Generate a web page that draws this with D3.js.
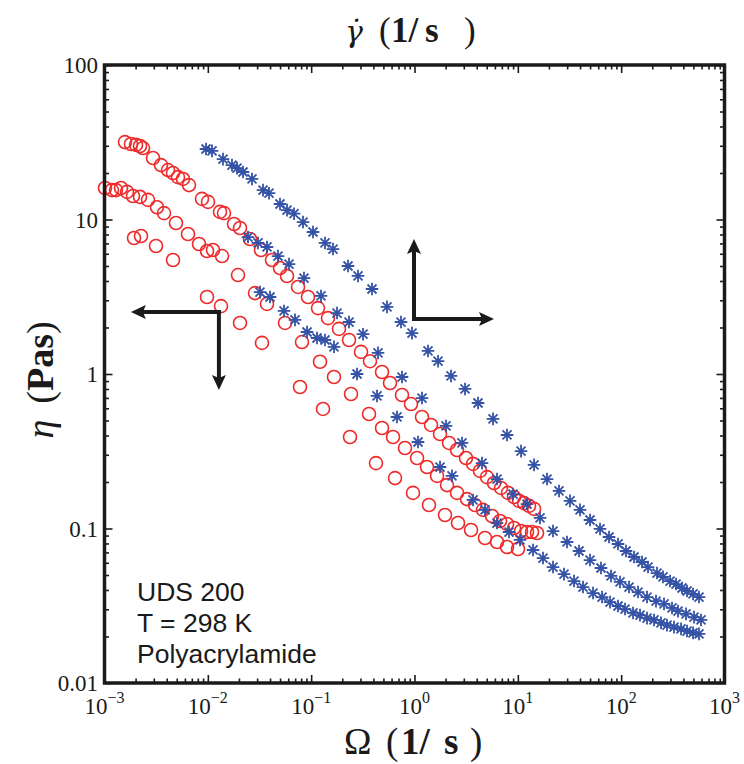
<!DOCTYPE html>
<html><head><meta charset="utf-8">
<script src="https://cdn.jsdelivr.net/npm/d3@7/dist/d3.min.js"></script>
<style>body{margin:0;background:#fff}</style>
</head><body>
<svg id="c" width="744" height="764"></svg>
<script>
// ---------- data ----------
// Oscillatory data: eta vs Omega (red circles)
const omegaR1 = [0.001579,0.001805,0.002018,0.002206,0.002359,0.002947,0.003522,0.004117,0.004601,0.005143,0.005750,0.006573,0.008781,0.01004,0.01312,0.01434,0.01792,0.02048,0.02559,0.03270,0.04178,0.04993,0.05840,0.07459,0.09320,0.1165,0.1455,0.1859,0.2324,0.3037,0.3711,0.4850,0.5794,0.757,0.925,1.182,1.445,1.766,2.158,2.579,3.151,3.684,4.305,5.032,5.883,6.873,8.035,9.19,10.27,11.48,12.83,14.35];
const etaR1   = [31.7,30.8,30.4,29.9,29.0,25.0,22.5,20.9,20.0,18.8,18.3,16.7,13.6,13.0,11.2,11.0,9.35,8.81,7.48,6.35,5.47,4.85,4.31,3.66,3.15,2.67,2.30,1.96,1.66,1.39,1.21,1.03,0.874,0.731,0.639,0.527,0.468,0.409,0.358,0.322,0.286,0.262,0.236,0.215,0.197,0.183,0.170,0.160,0.151,0.146,0.140,0.134];

const omegaR2 = [0.001011,0.001182,0.001292,0.001444,0.001651,0.001887,0.002206,0.002636,0.003222,0.003766,0.004920,0.006428,0.008215,0.009818,0.01122,0.01372,0.01959,0.02861,0.03737,0.05584,0.08152,0.1218,0.1663,0.2430,0.3630,0.4850,0.6194,0.809,1.058,1.321,1.652,2.064,2.579,3.222,3.851,4.603,5.625,6.722,7.858,9.19,10.74,12.27,13.72,15.33];
const etaR2   = [16.0,15.5,15.5,16.0,15.1,14.2,14.0,13.4,12.0,11.0,9.49,8.06,6.94,6.25,6.35,5.80,4.37,3.34,2.84,2.14,1.61,1.20,0.956,0.742,0.551,0.447,0.391,0.332,0.286,0.250,0.219,0.191,0.170,0.155,0.142,0.132,0.1205,0.1118,0.1070,0.1007,0.0963,0.0949,0.0949,0.0935];

const omegaR3 = [0.001930,0.002255,0.003151,0.004601,0.009818,0.01341,0.02048,0.03343,0.07798,0.1302,0.2376,0.4240,0.648,0.967,1.381,1.973,2.637,3.524,4.812,6.29,7.858,10.04];
const etaR3   = [7.59,7.82,6.74,5.47,3.15,2.75,2.14,1.59,0.824,0.594,0.391,0.265,0.212,0.170,0.142,0.1223,0.1085,0.0978,0.0868,0.0818,0.0759,0.0737];

// Steady shear data: eta vs shear rate (blue stars)
const rateB1 = [0.00960,0.01098,0.01402,0.01713,0.01915,0.02189,0.02676,0.03420,0.03908,0.04993,0.05840,0.06824,0.08337,0.1042,0.1361,0.1627,0.2273,0.2840,0.3880,0.5420,0.740,0.946,1.351,1.689,2.256,3.082,4.118,5.751,7.858,10.74,14.35,19.16,25.03,31.99,39.98,49.95,62.43,76.3,93.2,111.4,133.2,159.2,181.9,222.3,254.1,297.0,339.5,388.0,433.8,496.0,566.6];
const etaB1  = [28.6,27.8,24.6,22.5,21.5,20.3,18.3,15.5,14.8,12.6,11.5,10.9,9.63,8.30,7.05,6.44,5.00,4.31,3.55,2.72,2.17,1.84,1.41,1.21,0.971,0.800,0.649,0.512,0.403,0.317,0.258,0.209,0.175,0.151,0.132,0.1135,0.0993,0.0881,0.0794,0.0715,0.0654,0.0607,0.0563,0.0515,0.0486,0.0457,0.0437,0.0412,0.0394,0.0377,0.0360];

const rateB2 = [0.02447,0.03058,0.03737,0.04775,0.06104,0.0852,0.1245,0.1779,0.2324,0.3176,0.4435,0.757,1.182,2.018,2.883,4.501,6.29,8.98,12.27,16.40,21.90,29.92,39.10,49.95,63.8,79.8,97.5,119.1,145.6,177.9,217.4,259.8,310.6,355.0,424.2,507.0,592.8];
const etaB2  = [7.70,7.05,6.64,5.80,5.15,4.18,3.20,2.48,2.17,1.81,1.37,0.956,0.699,0.461,0.358,0.265,0.209,0.167,0.144,0.117,0.0963,0.0818,0.0715,0.0625,0.0555,0.0493,0.0451,0.0418,0.0388,0.0360,0.0339,0.0325,0.0306,0.0292,0.0280,0.0267,0.0256];

const rateB3 = [0.03198,0.03996,0.05462,0.06978,0.0912,0.1139,0.1361,0.1663,0.2778,0.4337,0.677,1.081,1.766,2.307,3.684,4.812,6.29,8.22,10.50,14.03,17.52,21.90,27.98,34.97,42.73,53.41,65.3,78.0,93.2,109.0,130.2,152.2,177.9,208.0,243.0,277.8,324.7,379.5,433.8,496.0,566.6];
const etaB3  = [3.39,3.15,2.56,2.24,1.87,1.71,1.66,1.50,1.00,0.721,0.527,0.363,0.250,0.219,0.153,0.132,0.1085,0.0949,0.0843,0.0726,0.0644,0.0563,0.0507,0.0457,0.0418,0.0382,0.0360,0.0334,0.0315,0.0301,0.0284,0.0275,0.0263,0.0256,0.0245,0.0237,0.0230,0.0224,0.0217,0.0211,0.0208];

// Axis ticks
const xTickValues = [1e-3,1e-2,1e-1,1e0,1e1,1e2,1e3];
const xTickExponents = ["\u22123","\u22122","\u22121","0","1","2","3"];
const yTickValues = [0.01,0.1,1,10,100];
const yTickLabels = ["0.01","0.1","1","10","100"];
const annotationLines = ["UDS 200","T = 298 K","Polyacrylamide"];

// ---------- chart ----------
(function(){
const svg = d3.select("#c");
const L = 104.5, R = 724.5, T = 65, B = 683;
const x = d3.scaleLog().domain([1e-3,1e3]).range([L,R]);
const y = d3.scaleLog().domain([0.01,100]).range([B,T]);
const ink = "#1a1a1a";

const minorX = [], minorY = [];
for (let e=-3;e<3;e++) for (let k=2;k<10;k++) minorX.push(k*Math.pow(10,e));
for (let e=-2;e<2;e++) for (let k=2;k<10;k++) minorY.push(k*Math.pow(10,e));

function addAxis(gen, tr, vals, size){
  const g = svg.append("g").attr("transform",tr)
    .call(gen.tickValues(vals).tickSize(size).tickFormat(""));
  g.select(".domain").remove();
  g.selectAll(".tick line").attr("stroke",ink).attr("stroke-width",1.6);
}
addAxis(d3.axisBottom(x), `translate(0,${B})`, xTickValues, -8);
addAxis(d3.axisBottom(x), `translate(0,${B})`, minorX, -4.5);
addAxis(d3.axisTop(x), `translate(0,${T})`, xTickValues, -8);
addAxis(d3.axisTop(x), `translate(0,${T})`, minorX, -4.5);
addAxis(d3.axisLeft(y), `translate(${L},0)`, yTickValues, -8);
addAxis(d3.axisLeft(y), `translate(${L},0)`, minorY, -4.5);
addAxis(d3.axisRight(y), `translate(${R},0)`, yTickValues, -8);
addAxis(d3.axisRight(y), `translate(${R},0)`, minorY, -4.5);

// tick labels
const serif = "'Liberation Serif','DejaVu Serif',serif";
xTickValues.forEach((v,i)=>{
  const t = svg.append("text").attr("x",x(v)).attr("y",714)
    .attr("text-anchor","middle").attr("font-family",serif).attr("font-size",23).attr("fill",ink);
  t.append("tspan").text("10");
  t.append("tspan").attr("dy",-11).attr("font-size",16).text(xTickExponents[i]);
});
yTickValues.forEach((v,i)=>{
  svg.append("text").attr("x",98).attr("y",y(v)).attr("dy","0.35em")
    .attr("text-anchor","end").attr("font-family",serif).attr("font-size",23).attr("fill",ink)
    .text(yTickLabels[i]);
});

// data: red circles
const red = "#ee2a2a", blue = "#3553a6";
[[omegaR1,etaR1],[omegaR2,etaR2],[omegaR3,etaR3]].forEach(([xs,ys])=>{
  svg.append("g").selectAll("circle").data(xs.map((v,i)=>[v,ys[i]])).join("circle")
    .attr("cx",d=>x(d[0])).attr("cy",d=>y(d[1])).attr("r",6.5)
    .attr("fill","none").attr("stroke",red).attr("stroke-width",1.6);
});
// blue stars
const star = "M-6.3,0H6.3M0,-6.3V6.3M-4.5,-4.5L4.5,4.5M-4.5,4.5L4.5,-4.5";
[[rateB1,etaB1],[rateB2,etaB2],[rateB3,etaB3]].forEach(([xs,ys])=>{
  svg.append("g").selectAll("path").data(xs.map((v,i)=>[v,ys[i]])).join("path")
    .attr("transform",d=>`translate(${x(d[0])},${y(d[1])})`).attr("d",star)
    .attr("fill","none").attr("stroke",blue).attr("stroke-width",1.8);
});

// frame
svg.append("rect").attr("x",L).attr("y",T).attr("width",R-L).attr("height",B-T)
  .attr("fill","none").attr("stroke",ink).attr("stroke-width",3.5);

// arrows
function arrow(x1,y1,x2,y2){
  const ang = Math.atan2(y2-y1,x2-x1), hl=15, hw=7;
  const bx = x2-hl*Math.cos(ang), by = y2-hl*Math.sin(ang);
  svg.append("line").attr("x1",x1).attr("y1",y1).attr("x2",bx+3*Math.cos(ang)).attr("y2",by+3*Math.sin(ang))
    .attr("stroke",ink).attr("stroke-width",4);
  const px=-Math.sin(ang), py=Math.cos(ang);
  const nx = bx+(x2-bx)*0.2, ny = by+(y2-by)*0.2;
  svg.append("path").attr("d",`M${x2},${y2}L${bx+px*hw},${by+py*hw}L${nx},${ny}L${bx-px*hw},${by-py*hw}Z`)
    .attr("fill",ink);
}
{
  const cx = x(0.0128), cy = y(2.52);
  arrow(cx+2,cy,x(0.0018),cy);
  arrow(cx,cy-2,cx,y(0.788));
}
{
  const cx = x(0.989), cy = y(2.27);
  arrow(cx,cy+2,cx,y(7.48));
  arrow(cx-2,cy,x(5.88),cy);
}

// annotation text
annotationLines.forEach((s,i)=>{
  svg.append("text").attr("x",137).attr("y",601+i*31)
    .attr("font-family","'Liberation Sans',Arial,sans-serif").attr("font-size",26.5).attr("fill",ink).text(s);
});

// top title: gamma-dot (1/s)
const tt = svg.append("text").attr("y",42).attr("font-family",serif).attr("font-size",35).attr("fill",ink);
tt.append("tspan").attr("x",345).attr("font-style","italic")
  .attr("font-family","'DejaVu Serif',serif").attr("font-size",30).text("\u03B3\u0307");
tt.append("tspan").attr("x",379).text("(");
tt.append("tspan").attr("x",391).attr("font-weight","bold").text("1/");
tt.append("tspan").attr("x",425).attr("font-weight","bold").text("s");
tt.append("tspan").attr("x",464).text(")");

// x label: Omega (1/s)
const xl = svg.append("text").attr("y",754).attr("font-family",serif).attr("font-size",37).attr("fill",ink);
xl.append("tspan").attr("x",344).text("\u03A9");
xl.append("tspan").attr("x",386).text("(");
xl.append("tspan").attr("x",401).attr("font-weight","bold").text("1/");
xl.append("tspan").attr("x",444).attr("font-weight","bold").text("s");
xl.append("tspan").attr("x",470).text(")");

// y label: eta (Pas)
const yl = svg.append("text").attr("transform","translate(53,380) rotate(-90)").attr("text-anchor","middle")
  .attr("font-family",serif).attr("font-size",38).attr("fill",ink);
yl.append("tspan").attr("font-style","italic").text("\u03B7");
yl.append("tspan").attr("dx",16).text("(");
yl.append("tspan").attr("font-weight","bold").text("Pas");
yl.append("tspan").text(")");
})();
</script>
</body></html>
